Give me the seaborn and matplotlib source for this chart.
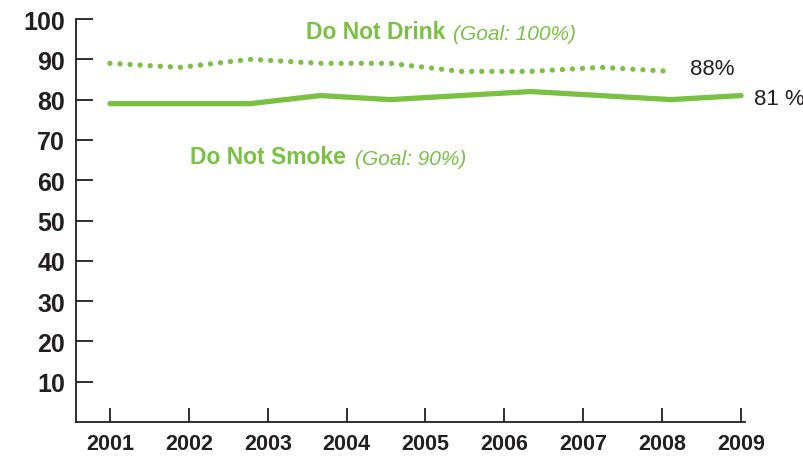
import numpy as np
import matplotlib
matplotlib.use("Agg")
import matplotlib.pyplot as plt
import seaborn as sns

years = [2001, 2002, 2003, 2004, 2005, 2006, 2007, 2008, 2009]
yticks = [10, 20, 30, 40, 50, 60, 70, 80, 90, 100]

# survey values (10 evenly spread points across the axis)
smoke = [79, 79, 79, 81, 80, 81, 82, 81, 80, 81]
drink = [89, 88, 90, 89, 89, 87, 87, 88, 87]

smoke_label = "81 %"
drink_label = "88%"

green = "#7AC143"
dark = "#231F20"

sns.set_theme(style="white")
plt.rcParams["font.family"] = ["Liberation Sans", "DejaVu Sans"]

fig = plt.figure(figsize=(8.04, 4.6), dpi=100)
ax = fig.add_axes([76 / 804, 37 / 460, (745 - 76) / 804, (423 - 20) / 460])

xs = np.linspace(years[0], years[-1], len(smoke))

sns.lineplot(x=xs, y=smoke, ax=ax, color=green, linewidth=3.8,
             solid_capstyle="round")
sns.lineplot(x=xs[:len(drink)], y=drink, ax=ax, color=green, linewidth=3.8,
             linestyle=(0, (0.01, 1.9)), dash_capstyle="round")

ax.annotate(smoke_label, xy=(xs[-1], smoke[-1]), xytext=(9, -2),
            textcoords="offset points", va="center", ha="left",
            fontsize=16, color=dark, annotation_clip=False)
ax.annotate(drink_label, xy=(xs[len(drink) - 1], drink[-1]), xytext=(14, 2),
            textcoords="offset points", va="center", ha="left",
            fontsize=16, color=dark, annotation_clip=False)

t1 = ax.text(2003.48, 96.8, "Do Not Drink", fontweight="bold",
             fontsize=16.5, color=green, va="center", ha="left")
ax.annotate("(Goal: 100%)", xy=(1, 0), xycoords=t1, xytext=(6, 0),
            textcoords="offset points", va="bottom", ha="left",
            style="italic", fontsize=15, color=green)
t2 = ax.text(2002.02, 65.9, "Do Not Smoke", fontweight="bold",
             fontsize=16.5, color=green, va="center", ha="left")
ax.annotate("(Goal: 90%)", xy=(1, 0), xycoords=t2, xytext=(6, 0),
            textcoords="offset points", va="bottom", ha="left",
            style="italic", fontsize=15, color=green)

ax.set_xlim(2000.57, 2009.05)
ax.set_ylim(0, 100)
ax.set_xticks(years)
ax.set_xticklabels([str(y) for y in years], fontweight="bold",
                   fontsize=15.5, color=dark)
ax.set_yticks(yticks)
ax.set_yticklabels([str(v) for v in yticks], fontweight="bold",
                   fontsize=18, color=dark)
ax.tick_params(axis="y", left=True, direction="in", length=12, width=1.3,
               color=dark, pad=8)
ax.tick_params(axis="x", bottom=True, direction="in", length=10, width=1.3,
               color=dark, pad=8)

for side in ["top", "right"]:
    ax.spines[side].set_visible(False)
for side in ["left", "bottom"]:
    ax.spines[side].set_color(dark)
    ax.spines[side].set_linewidth(1.3)
ax.set_xlabel("")
ax.set_ylabel("")

fig.savefig("out.png", dpi=100)
